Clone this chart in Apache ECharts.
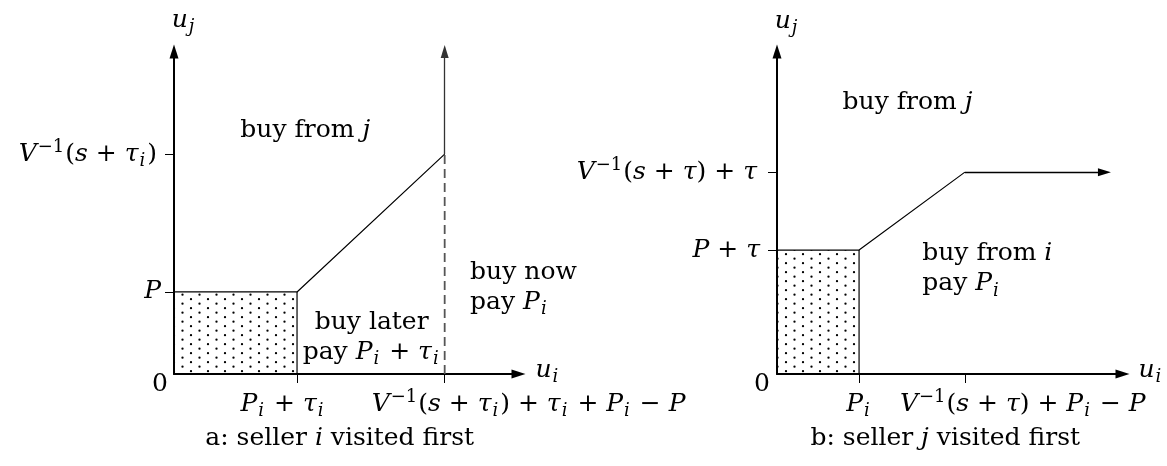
<!DOCTYPE html>
<html>
<head>
<meta charset="utf-8">
<script src="https://cdn.jsdelivr.net/npm/echarts@6/dist/echarts.min.js"></script>
<style>
  html, body { margin: 0; padding: 0; background: #fff; }
  #chart { width: 1167px; height: 466px; }
</style>
</head>
<body>
<div id="chart"></div>
<script>
// Panel a: seller i visited first (u_i horizontal, u_j vertical)
const aPiTau = 1.5;          // P_i + tau_i
const aP = 1.0;              // P
const aKink = [3.3, 2.68];   // (V^-1(s+tau_i)+tau_i+P_i-P , V^-1(s+tau_i))
const aSolidFrom = 2.68;     // boundary turns into a solid vertical arrow here
const aXMax = 4.2;
const aYMax = 3.93;

// Panel b: seller j visited first
const bPi = 1.0;             // P_i
const bPTau = 1.51;          // P + tau
const bKink = [2.29, 2.46];  // (V^-1(s+tau)+P_i-P , V^-1(s+tau)+tau)
const bArrowEnd = 3.99;
const bXMax = 4.21;
const bYMax = 3.93;

// Tick positions on each axis
const aXTicks = [aPiTau, aKink[0]];
const aYTicks = [aP, aKink[1]];
const bXTicks = [bPi, bKink[0]];
const bYTicks = [bPTau, bKink[1]];

// ---- text helpers (rich-text math) ----
const FONT = '"DejaVu Serif", "Liberation Serif", serif';
const F = 25;
const LH = 30;
const SS = Math.round(F * 0.72);
const RICH = {
  rm:  { fontFamily: FONT, fontSize: F, color: '#000', lineHeight: LH },
  it:  { fontFamily: FONT, fontSize: F, fontStyle: 'italic', color: '#000', lineHeight: LH },
  sub: { fontFamily: FONT, fontSize: SS, fontStyle: 'italic', color: '#000', lineHeight: LH, padding: [Math.round(F * 0.58), 2, 0, 1] },
  sup: { fontFamily: FONT, fontSize: SS, color: '#000', lineHeight: LH, padding: [0, 1, Math.round(F * 0.52), 1] }
};
const rm = s => `{rm|${s}}`;
const it = s => `{it|${s}}`;
const sb = s => `{sub|${s}}`;
const sp = s => `{sup|${s}}`;
const Vinv = (arg) => it('V') + sp('−1') + rm('(') + arg + rm(')');

const aTickTexts = {
  x: [it('P') + sb('i') + rm(' + ') + it('τ') + sb('i'),
      Vinv(it('s') + rm(' + ') + it('τ') + sb('i')) + rm(' + ') + it('τ') + sb('i') + rm(' + ') + it('P') + sb('i') + rm(' − ') + it('P')],
  y: [it('P'), Vinv(it('s') + rm(' + ') + it('τ') + sb('i'))]
};
const bTickTexts = {
  x: [it('P') + sb('i'),
      Vinv(it('s') + rm(' + ') + it('τ')) + rm(' + ') + it('P') + sb('i') + rm(' − ') + it('P')],
  y: [it('P') + rm(' + ') + it('τ'), Vinv(it('s') + rm(' + ') + it('τ')) + rm(' + ') + it('τ')]
};

// ---- dotted fill tile (staggered dots) ----
function dotTile() {
  const c = document.createElement('canvas');
  c.width = 17; c.height = 9;
  const g = c.getContext('2d');
  g.fillStyle = '#000';
  [[4, 2.2], [12.5, 6.7]].forEach(([x, y]) => { g.beginPath(); g.arc(x, y, 1.15, 0, Math.PI * 2); g.fill(); });
  return { image: c, repeat: 'repeat' };
}
const DOTS = dotTile();

function axisPair(gridIndex, xMax, yMax, xTicks, yTicks) {
  const line = { symbol: ['none', 'triangle'], symbolSize: [9, 14], lineStyle: { color: '#000', width: 2 } };
  const tick = (vals) => ({ show: true, customValues: vals, length: 9, inside: false, lineStyle: { color: '#000', width: 1 } });
  return {
    x: { type: 'value', gridIndex, min: 0, max: xMax, axisLine: line, axisTick: tick(xTicks), axisLabel: { show: false }, splitLine: { show: false } },
    y: { type: 'value', gridIndex, min: 0, max: yMax, axisLine: line, axisTick: tick(yTicks), axisLabel: { show: false }, splitLine: { show: false } }
  };
}
const axA = axisPair(0, aXMax, aYMax, aXTicks, aYTicks);
const axB = axisPair(1, bXMax, bYMax, bXTicks, bYTicks);

const thin = { color: '#000', width: 1.2 };
function rectSeries(i, x1, y1) {
  return {
    type: 'custom', xAxisIndex: i, yAxisIndex: i, silent: true, z: 1,
    data: [[0, 0, x1, y1]],
    renderItem: (params, api) => {
      const p0 = api.coord([api.value(0), api.value(1)]);
      const p1 = api.coord([api.value(2), api.value(3)]);
      return { type: 'rect', shape: { x: p0[0], y: p1[1], width: p1[0] - p0[0], height: p0[1] - p1[1] }, style: { fill: DOTS } };
    }
  };
}
function lineSeries(i, pts, style) {
  return { type: 'line', xAxisIndex: i, yAxisIndex: i, silent: true, symbol: 'none', z: 3, data: pts, lineStyle: style, animation: false };
}
function arrowSeries(i, from, to, color) {
  return {
    type: 'line', xAxisIndex: i, yAxisIndex: i, silent: true, data: [], z: 3,
    markLine: { silent: true, animation: false, symbol: ['none', 'triangle'], symbolSize: [8, 13], label: { show: false },
      lineStyle: { color: color || '#000', width: 1.3, type: 'solid' }, emphasis: { disabled: true },
      data: [[{ coord: from }, { coord: to }]] }
  };
}

const option = {
  animation: false,
  backgroundColor: '#fff',
  grid: [
    { left: 174, top: 51.5, width: 344.5, height: 322.5 },
    { left: 777, top: 51.5, width: 345.5, height: 322.5 }
  ],
  xAxis: [axA.x, axB.x],
  yAxis: [axA.y, axB.y],
  series: [
    rectSeries(0, aPiTau, aP),
    lineSeries(0, [[0, aP], [aPiTau, aP], aKink], thin),
    lineSeries(0, [[aPiTau, 0], [aPiTau, aP]], thin),
    lineSeries(0, [[aKink[0], 0], [aKink[0], aSolidFrom]], { color: '#555', width: 1.8, type: [9, 5] }),
    arrowSeries(0, [aKink[0], aSolidFrom], [aKink[0], aYMax], '#333'),

    rectSeries(1, bPi, bPTau),
    lineSeries(1, [[0, bPTau], [bPi, bPTau], bKink], thin),
    lineSeries(1, [[bPi, 0], [bPi, bPTau]], thin),
    arrowSeries(1, bKink, [bArrowEnd, bKink[1]])
  ]
};

const chart = echarts.init(document.getElementById('chart'), null, { renderer: 'canvas' });
chart.setOption(option);

// Text placed at data coordinates of each panel (with small pixel nudges)
const texts = [
  // panel a
  { g: 0, at: [0, aYMax], t: it('u') + sb('j'), align: 'center', dx: 10, dy: -31 },
  { g: 0, at: [aXMax, 0], t: it('u') + sb('i'), align: 'left', dx: 17, dy: -4 },
  { g: 0, at: [0, 0], t: rm('0'), align: 'right', dx: -6, dy: 10 },
  { g: 0, at: [0, aYTicks[0]], t: aTickTexts.y[0], align: 'right', dx: -13, dy: 0 },
  { g: 0, at: [0, aYTicks[1]], t: aTickTexts.y[1], align: 'right', dx: -17, dy: 0 },
  { g: 0, at: [aXTicks[0], 0], t: aTickTexts.x[0], align: 'center', dx: -14, dy: 30 },
  { g: 0, at: [aXTicks[1], 0], t: aTickTexts.x[1], align: 'left', dx: -73, dy: 30 },
  { g: 0, at: [1.6, 2.97], t: rm('buy from ') + it('j'), align: 'center' },
  { g: 0, at: [3.61, 1.06], t: rm('buy now') + '\n' + rm('pay ') + it('P') + sb('i'), align: 'left' },
  { g: 0, at: [2.41, 0.45], t: rm('buy later') + '\n' + rm('pay ') + it('P') + sb('i') + rm(' + ') + it('τ') + sb('i'), align: 'center' },
  { g: 0, at: [2.02, -0.78], t: rm('a: seller ') + it('i') + rm(' visited first'), align: 'center' },
  // panel b
  { g: 1, at: [0, bYMax], t: it('u') + sb('j'), align: 'center', dx: 10, dy: -30 },
  { g: 1, at: [bXMax, 0], t: it('u') + sb('i'), align: 'left', dx: 16, dy: -4 },
  { g: 1, at: [0, 0], t: rm('0'), align: 'right', dx: -7, dy: 10 },
  { g: 1, at: [0, bYTicks[0]], t: bTickTexts.y[0], align: 'right', dx: -17, dy: 0 },
  { g: 1, at: [0, bYTicks[1]], t: bTickTexts.y[1], align: 'right', dx: -20, dy: 0 },
  { g: 1, at: [bXTicks[0], 0], t: bTickTexts.x[0], align: 'center', dx: 0, dy: 30 },
  { g: 1, at: [bXTicks[1], 0], t: bTickTexts.x[1], align: 'left', dx: -65, dy: 30 },
  { g: 1, at: [1.59, 3.31], t: rm('buy from ') + it('j'), align: 'center' },
  { g: 1, at: [1.77, 1.28], t: rm('buy from ') + it('i') + '\n' + rm('pay ') + it('P') + sb('i'), align: 'left' },
  { g: 1, at: [2.05, -0.78], t: rm('b: seller ') + it('j') + rm(' visited first'), align: 'center' }
];

chart.setOption({
  graphic: texts.map(d => {
    const p = chart.convertToPixel({ gridIndex: d.g }, d.at);
    return {
      type: 'text', silent: true, z: 10,
      x: p[0] + (d.dx || 0), y: p[1] + (d.dy || 0),
      style: { text: d.t, rich: RICH, align: d.align, verticalAlign: 'middle', fill: '#000', font: `${F}px ${FONT}` }
    };
  })
});
</script>
</body>
</html>
